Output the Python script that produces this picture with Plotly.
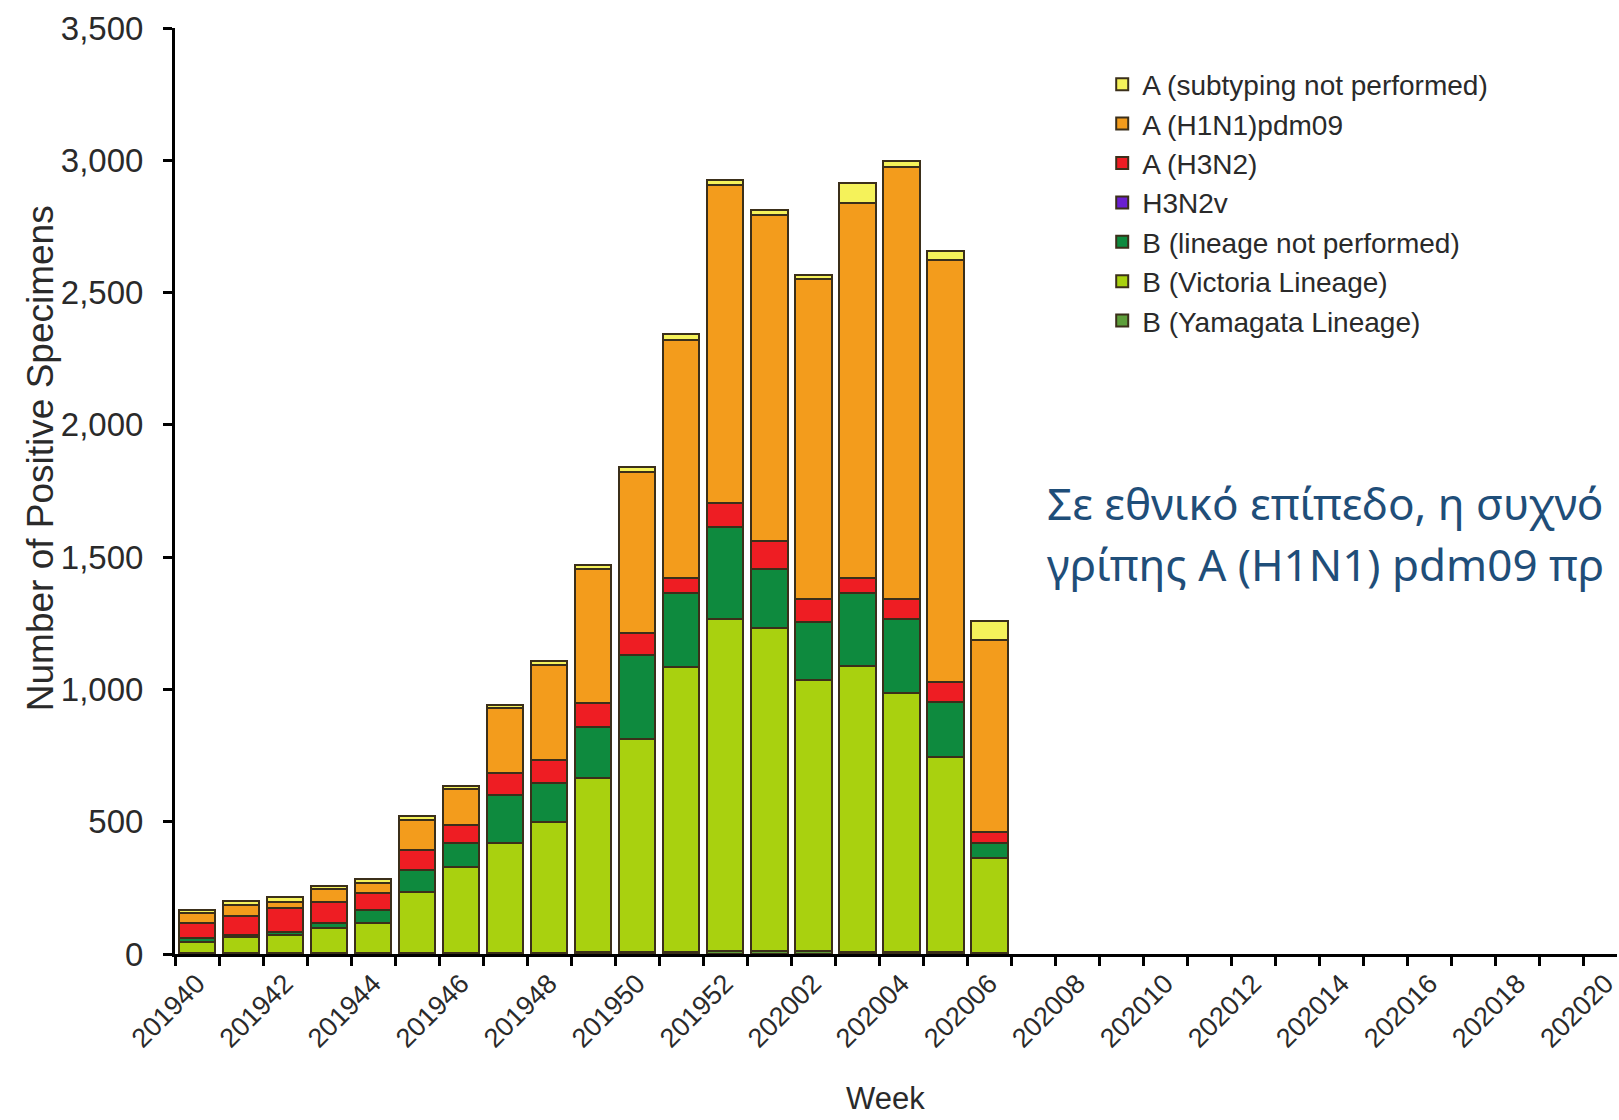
import plotly.graph_objects as go

# ---- data ----
weeks = ["201940", "201941", "201942", "201943", "201944", "201945", "201946",
         "201947", "201948", "201949", "201950", "201951", "201952",
         "202001", "202002", "202003", "202004", "202005", "202006", "202007",
         "202008", "202009", "202010", "202011", "202012", "202013", "202014",
         "202015", "202016", "202017", "202018", "202019", "202020"]
data_weeks = weeks[:19]

a_unsubtyped = [10, 15, 16, 13, 15, 13, 13, 13, 16, 16, 19, 22, 20, 20, 15, 75, 25, 35, 73]
a_h1n1pdm09 = [40, 44, 25, 47, 38, 113, 135, 246, 356, 507, 608, 901, 1200, 1230, 1209, 1420, 1633, 1594, 725]
a_h3n2 = [57, 69, 88, 82, 63, 76, 69, 82, 88, 91, 84, 57, 90, 105, 86, 57, 75, 75, 44]
h3n2v = [0] * 19
b_lineage_np = [12, 8, 13, 19, 48, 82, 88, 183, 147, 193, 319, 280, 347, 226, 221, 275, 280, 208, 56]
b_victoria = [44, 63, 70, 95, 116, 233, 326, 414, 495, 658, 805, 1075, 1256, 1221, 1023, 1080, 977, 738, 357]
b_yamagata = [3, 2, 2, 2, 2, 3, 4, 4, 5, 6, 6, 8, 12, 10, 12, 8, 8, 8, 5]

tick_text = [w if i % 2 == 0 else "" for i, w in enumerate(weeks)]
y_ticks = [0, 500, 1000, 1500, 2000, 2500, 3000, 3500]

note_line1 = "Σε εθνικό επίπεδο, η συχνό"
note_line2 = "γρίπης A (H1N1) pdm09 πρ"

# ---- figure ----
series = [
    ("B (Yamagata Lineage)", b_yamagata, "#5d9e3a"),
    ("B (Victoria Lineage)", b_victoria, "#a9d10f"),
    ("B (lineage not performed)", b_lineage_np, "#0e8a3e"),
    ("H3N2v", h3n2v, "#6a1fd0"),
    ("A (H3N2)", a_h3n2, "#ee1d23"),
    ("A (H1N1)pdm09", a_h1n1pdm09, "#f39c1c"),
    ("A (subtyping not performed)", a_unsubtyped, "#f5f25a"),
]

fig = go.Figure()
for name, vals, col in series:
    fig.add_trace(go.Bar(
        x=data_weeks, y=vals, name=name,
        marker=dict(color=col, line=dict(color="#3b2f1a", width=2)),
    ))

W, H = 1619, 1120
L, R, T, B = 175, 0, 28, 166

fig.update_layout(
    width=W, height=H,
    margin=dict(l=L, r=R, t=T, b=B),
    barmode="stack", bargap=0.17,
    plot_bgcolor="white", paper_bgcolor="white",
    font=dict(family="Liberation Sans, Arial, sans-serif", color="#2a2a2a"),
    legend=dict(
        x=0.643, xanchor="left", y=0.966, yanchor="top",
        traceorder="reversed",
        font=dict(size=28, color="#2a2a2a"),
        bgcolor="rgba(0,0,0,0)",
    ),
    xaxis=dict(
        type="category", categoryorder="array", categoryarray=weeks,
        range=[-0.5, 32.26],
        tickmode="array", tickvals=weeks, ticktext=tick_text,
        tickson="boundaries",
        tickangle=-45, tickfont=dict(size=27, color="#2a2a2a"),
        ticks="outside", ticklen=9, tickwidth=2.5, tickcolor="black",
        showline=True, linecolor="black", linewidth=3,
        showgrid=False, zeroline=False,
    ),
    yaxis=dict(
        range=[0, 3500], tickvals=y_ticks, tickformat=",",
        tickfont=dict(size=33, color="#2a2a2a"),
        ticks="outside", ticklen=9, tickwidth=3, tickcolor="black",
        ticklabelstandoff=13,
        showline=True, linecolor="black", linewidth=3,
        showgrid=False, zeroline=False,
    ),
    showlegend=True,
)

plot_w = W - L - R
plot_h = H - T - B

def px_x(p):
    return (p - L) / plot_w

def px_y(p):
    return (H - B - p) / plot_h

fig.add_annotation(
    text="Number of Positive Specimens", textangle=-90,
    xref="paper", yref="paper", x=px_x(41), y=px_y(458),
    xanchor="center", yanchor="middle", showarrow=False,
    font=dict(size=37, color="#2a2a2a", family="Liberation Sans, Arial, sans-serif"),
)
fig.add_annotation(
    text="Week",
    xref="paper", yref="paper", x=px_x(886), y=px_y(1098),
    xanchor="center", yanchor="middle", showarrow=False,
    font=dict(size=31, color="#2a2a2a", family="Liberation Sans, Arial, sans-serif"),
)
fig.add_annotation(
    text=note_line1,
    xref="paper", yref="paper", x=px_x(1046), y=px_y(503),
    xanchor="left", yanchor="middle", showarrow=False,
    font=dict(size=44, color="#1f4e79", family="Noto Sans, Open Sans, sans-serif"),
)
fig.add_annotation(
    text=note_line2,
    xref="paper", yref="paper", x=px_x(1046), y=px_y(564),
    xanchor="left", yanchor="middle", showarrow=False,
    font=dict(size=44, color="#1f4e79", family="Noto Sans, Open Sans, sans-serif"),
)

fig.write_html("out.html", config={"displayModeBar": False},
               post_script="document.body.style.margin='0';")
